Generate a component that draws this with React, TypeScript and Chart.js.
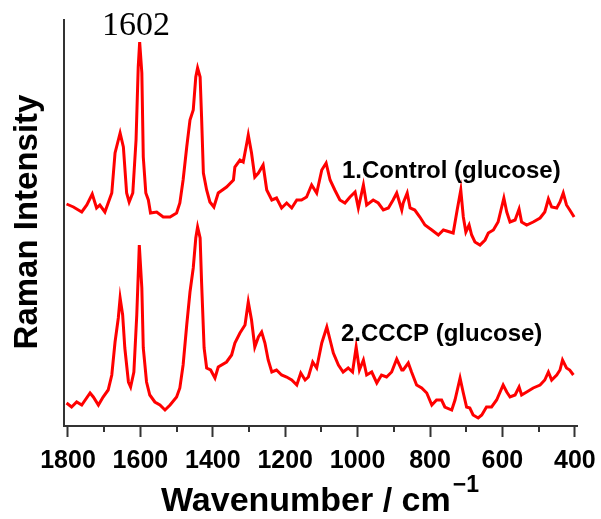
import React, { useEffect, useRef } from 'react';
import { Chart, registerables } from 'chart.js';

Chart.register(...registerables);

// ---- Data ----
const controlWavenumbers = [
  1804, 1785, 1762, 1748, 1733, 1721, 1712, 1698, 1689, 1679,
  1670, 1656, 1647, 1638, 1631, 1621, 1612, 1606, 1602, 1596,
  1592, 1585, 1578, 1572, 1555, 1537, 1518, 1500, 1491, 1482,
  1472, 1463, 1454, 1447, 1442, 1435, 1431, 1426, 1417, 1408,
  1397, 1385, 1362, 1343, 1339, 1325, 1316, 1306, 1302, 1293,
  1284, 1274, 1261, 1251, 1237, 1224, 1210, 1196, 1182, 1168,
  1155, 1141, 1127, 1113, 1099, 1087, 1076, 1063, 1049, 1035,
  1021, 1007, 998, 984, 975, 957, 943, 929, 915, 902,
  892, 878, 874, 863, 855, 842, 828, 814, 795, 777,
  763, 745, 736, 725, 715, 708, 701, 692, 685, 676,
  662, 648, 639, 625, 612, 602, 596, 588, 579, 565,
  554, 547, 533, 515, 496, 483, 473, 464, 450, 441,
  432, 423, 414, 402,
];
const controlIntensity = [
  222, 219, 214, 221, 232, 218, 221, 214, 223, 233,
  273, 293, 279, 233, 224, 233, 286, 359, 384, 353,
  269, 233, 226, 213, 214, 209, 209, 213, 223, 246,
  279, 306, 316, 349, 358, 349, 309, 253, 236, 224,
  219, 233, 239, 246, 259, 266, 264, 283, 291, 273,
  249, 253, 261, 236, 226, 228, 218, 223, 218, 226,
  226, 229, 241, 233, 256, 263, 246, 236, 226, 223,
  229, 234, 218, 241, 221, 226, 223, 216, 218, 226,
  233, 216, 223, 233, 218, 216, 209, 201, 196, 191,
  196, 194, 193, 216, 236, 209, 194, 201, 191, 184,
  181, 186, 193, 196, 204, 219, 228, 214, 204, 206,
  217, 204, 201, 204, 208, 214, 227, 219, 218, 224,
  233, 221, 216, 209,
];
const cccpWavenumbers = [
  1804, 1790, 1776, 1762, 1739, 1730, 1716, 1703, 1689, 1679,
  1670, 1661, 1656, 1649, 1643, 1633, 1627, 1618, 1610, 1603,
  1596, 1592, 1583, 1574, 1560, 1546, 1532, 1518, 1500, 1491,
  1482, 1472, 1463, 1454, 1447, 1442, 1435, 1431, 1424, 1417,
  1406, 1394, 1385, 1362, 1348, 1339, 1325, 1311, 1302, 1293,
  1284, 1274, 1265, 1256, 1247, 1237, 1224, 1210, 1196, 1182,
  1168, 1157, 1145, 1136, 1124, 1113, 1099, 1085, 1076, 1067,
  1053, 1040, 1026, 1014, 1004, 995, 984, 975, 961, 947,
  934, 920, 906, 892, 878, 874, 860, 851, 837, 823,
  809, 795, 782, 768, 759, 740, 731, 717, 708, 699,
  690, 681, 667, 657, 644, 630, 616, 598, 588, 579,
  565, 554, 547, 533, 515, 496, 483, 473, 464, 450,
  441, 434, 423, 414, 404,
];
const cccpIntensity = [
  23, 19, 24, 21, 33, 29, 21, 29, 36, 51,
  84, 108, 128, 111, 78, 44, 39, 54, 111, 181,
  138, 78, 44, 31, 24, 21, 16, 21, 29, 38,
  61, 101, 134, 158, 188, 199, 188, 144, 78, 58,
  56, 48, 59, 64, 71, 83, 93, 101, 124, 106,
  79, 89, 94, 83, 66, 54, 56, 51, 49, 46,
  41, 53, 46, 49, 64, 58, 83, 99, 86, 73,
  61, 54, 58, 54, 79, 56, 66, 51, 54, 43,
  51, 49, 54, 67, 56, 56, 63, 54, 41, 38,
  33, 21, 26, 26, 19, 16, 26, 48, 33, 19,
  18, 11, 8, 11, 19, 19, 26, 41, 34, 29,
  31, 39, 31, 34, 38, 41, 46, 54, 46, 51,
  56, 66, 58, 56, 51,
];
const majorTicks = [1800, 1600, 1400, 1200, 1000, 800, 600, 400];
const minorTicks = [1700, 1500, 1300, 1100, 900, 700, 500];
const peakLabel = '1602';
const seriesLabels = ['1.Control (glucose)', '2.CCCP (glucose)'];
const xTitle = 'Wavenumber / cm';
const xTitleSup = '\u22121';
const yTitle = 'Raman Intensity';

const X_MIN = 394;
const X_MAX = 1811;
const Y_MIN = 0;
const Y_MAX = 406;

function toPoints(xs: number[], ys: number[]) {
  const n = Math.min(xs.length, ys.length);
  const out: { x: number; y: number }[] = [];
  for (let i = 0; i < n; i++) out.push({ x: xs[i], y: ys[i] });
  return out;
}

const SANS = '"Liberation Sans", Arial, sans-serif';
const SERIF = '"Liberation Serif", "Times New Roman", serif';

const annotationPlugin = {
  id: 'annotations',
  afterDraw(chart: any) {
    const { ctx, chartArea } = chart;
    const xs = chart.scales.x;
    ctx.save();
    // minor ticks
    ctx.strokeStyle = '#333';
    ctx.lineWidth = 2;
    minorTicks.forEach((v) => {
      const px = Math.round(xs.getPixelForValue(v));
      ctx.beginPath();
      ctx.moveTo(px, chartArea.bottom);
      ctx.lineTo(px, chartArea.bottom + 6);
      ctx.stroke();
    });
    ctx.fillStyle = '#000';
    // peak label
    ctx.font = `34px ${SERIF}`;
    ctx.textAlign = 'center';
    ctx.textBaseline = 'alphabetic';
    ctx.fillText(peakLabel, 136, 35);
    // series labels
    ctx.font = `bold 24px ${SANS}`;
    ctx.textAlign = 'left';
    ctx.fillText(seriesLabels[0], 342, 178);
    ctx.fillText(seriesLabels[1], 341, 341);
    // x title
    ctx.font = `bold 34px ${SANS}`;
    ctx.fillText(xTitle, 161, 511);
    const w = ctx.measureText(xTitle).width;
    ctx.font = `bold 23px ${SANS}`;
    ctx.fillText(xTitleSup, 161 + w + 2, 492);
    // y title
    ctx.translate(28, 222);
    ctx.rotate(-Math.PI / 2);
    ctx.font = `bold 33px ${SANS}`;
    ctx.textAlign = 'center';
    ctx.textBaseline = 'middle';
    ctx.fillText(yTitle, 0, 0);
    ctx.restore();
  },
};

export default function App() {
  const canvasRef = useRef<HTMLCanvasElement | null>(null);

  useEffect(() => {
    if (!canvasRef.current) return;
    const chart = new Chart(canvasRef.current, {
      type: 'line',
      data: {
        datasets: [
          {
            label: seriesLabels[0],
            data: toPoints(controlWavenumbers, controlIntensity),
            borderColor: '#ff0000',
            borderWidth: 3,
            pointRadius: 0,
            tension: 0,
            fill: false,
          },
          {
            label: seriesLabels[1],
            data: toPoints(cccpWavenumbers, cccpIntensity),
            borderColor: '#ff0000',
            borderWidth: 3,
            pointRadius: 0,
            tension: 0,
            fill: false,
          },
        ],
      },
      options: {
        animation: false,
        responsive: false,
        devicePixelRatio: 1,
        layout: { padding: { left: 64, right: 24, top: 20, bottom: 0 } },
        plugins: {
          legend: { display: false },
          tooltip: { enabled: false },
        },
        scales: {
          x: {
            type: 'linear',
            reverse: true,
            min: X_MIN,
            max: X_MAX,
            afterBuildTicks: (scale: any) => {
              scale.ticks = majorTicks.map((v) => ({ value: v }));
            },
            afterFit: (scale: any) => {
              scale.height = 93;
              scale.paddingLeft = 0;
              scale.paddingRight = 0;
            },
            grid: {
              display: true,
              drawOnChartArea: false,
              drawTicks: true,
              tickLength: 11,
              tickColor: '#333',
              tickWidth: 2,
            },
            border: { display: true, color: '#333', width: 2 },
            ticks: {
              autoSkip: false,
              maxRotation: 0,
              padding: 9,
              color: '#000',
              font: { family: SANS, size: 25, weight: 'bold' },
              callback: (v: any) => String(v),
            },
          },
          y: {
            type: 'linear',
            min: Y_MIN,
            max: Y_MAX,
            afterFit: (scale: any) => {
              scale.width = 0;
            },
            grid: { display: false },
            border: { display: true, color: '#333', width: 2 },
            ticks: { display: false },
          },
        },
      },
      plugins: [annotationPlugin],
    } as any);
    return () => chart.destroy();
  }, []);

  return (
    <div style={{ position: 'absolute', left: 0, top: 0, width: 601, height: 519, background: '#fff' }}>
      <canvas ref={canvasRef} width={601} height={519} style={{ width: 601, height: 519 }} />
    </div>
  );
}
